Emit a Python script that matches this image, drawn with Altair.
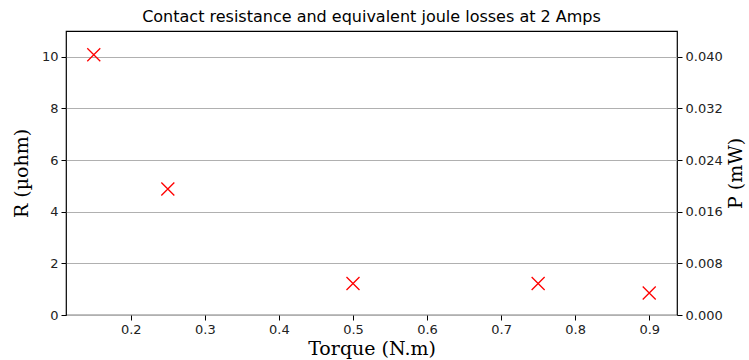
import altair as alt
import pandas as pd

torque = [0.15, 0.25, 0.5, 0.75, 0.9]
resistance = [10.08, 4.88, 1.22, 1.22, 0.85]
power = [0.0403, 0.0195, 0.0049, 0.0049, 0.0034]

df = pd.DataFrame({"torque": torque, "R": resistance, "P": power})

xshape = "M-1,-1L1,1M1,-1L-1,1"
tick_font = "DejaVu Sans"
title_font = "DejaVu Serif"
LFS = 13
TFS = 19

x_enc = alt.X("torque:Q",
              scale=alt.Scale(domain=[0.1125, 0.9375], nice=False, zero=False),
              axis=alt.Axis(values=[0.2, 0.3, 0.4, 0.5, 0.6, 0.7, 0.8, 0.9], format=".1f",
                            title="Torque (N.m)", titleFont=title_font, titleFontSize=TFS,
                            titleFontWeight="normal", titleColor="black",
                            labelFont=tick_font, labelFontSize=LFS, labelColor="#222222",
                            grid=False, domain=False, tickColor="black", tickSize=5,
                            labelPadding=3, titlePadding=3))

left = alt.Chart(df).mark_point(shape=xshape, size=169, color="#ff0000", strokeWidth=1.3,
                                filled=False, opacity=1).encode(
    x=x_enc,
    y=alt.Y("R:Q", scale=alt.Scale(domain=[0, 11], nice=False),
            axis=alt.Axis(values=[0, 2, 4, 6, 8, 10], title="R (µohm)",
                          titleFont=title_font, titleFontSize=TFS, titleFontWeight="normal",
                          titleColor="black", labelFont=tick_font, labelFontSize=LFS,
                          labelColor="#222222", grid=True, gridColor="#b0b0b0", gridWidth=1,
                          domain=False, tickColor="black", tickSize=5, labelPadding=3,
                          titlePadding=10, orient="left"))
)

right = alt.Chart(df).mark_point(shape=xshape, size=169, color="#ff0000", opacity=0).encode(
    x=x_enc,
    y=alt.Y("P:Q", scale=alt.Scale(domain=[0, 0.044], nice=False),
            axis=alt.Axis(values=[0, 0.008, 0.016, 0.024, 0.032, 0.04], format=".3f",
                          title="P (mW)", titleFont=title_font, titleFontSize=TFS,
                          titleFontWeight="normal", titleColor="black", titleAngle=270,
                          titleBaseline="top",
                          labelFont=tick_font, labelFontSize=LFS, labelColor="#222222",
                          grid=False, domain=False, tickColor="black", tickSize=5,
                          labelPadding=3, titlePadding=4, orient="right"))
)

chart = alt.layer(left, right).resolve_scale(y="independent").properties(
    width=611, height=284,
    title=alt.TitleParams("Contact resistance and equivalent joule losses at 2 Amps",
                          font=tick_font, fontSize=16, fontWeight="normal", color="black",
                          offset=6),
    autosize=alt.AutoSizeParams(type="none"),
    padding={"left": 66, "top": 31, "right": 72, "bottom": 45},
).configure_view(stroke="black", strokeWidth=1.2)

chart.save("out.html", embed_options={"renderer": "svg", "actions": False})
